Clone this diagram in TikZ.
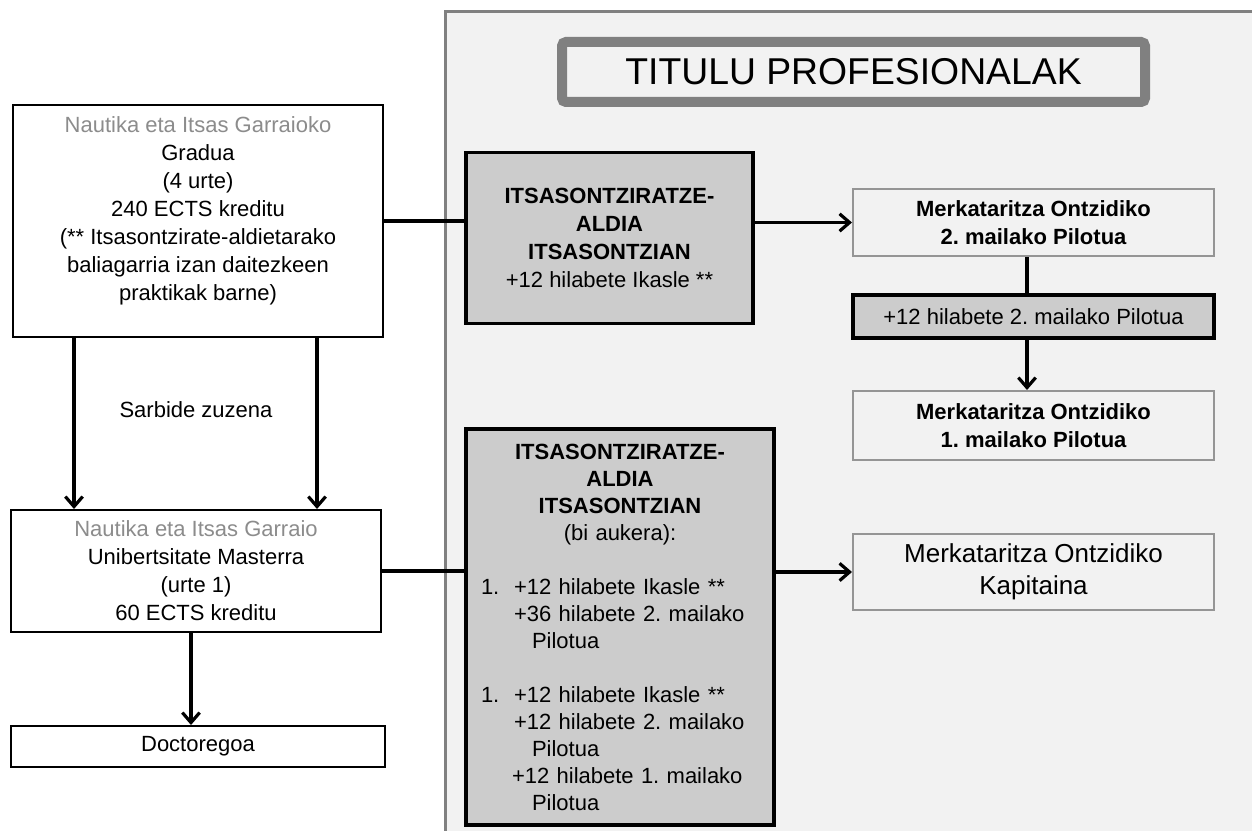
\documentclass[tikz,border=0pt]{standalone}
\usepackage{fontspec}
\setmainfont{Liberation Sans}
\usetikzlibrary{arrows.meta}
\frenchspacing

\definecolor{panelgray}{HTML}{F2F2F2}
\definecolor{paneledge}{HTML}{808080}
\definecolor{boxgray}{HTML}{CCCCCC}
\definecolor{rankedge}{HTML}{959595}
\definecolor{textgray}{HTML}{8C8C8C}

\tikzset{every picture/.style={line width=0.75pt}}

\begin{document}
\begin{tikzpicture}[x=0.75pt,y=0.75pt,yscale=-1,xscale=1,
	every node/.style={font=\fontsize{16.5}{21}\selectfont, align=center},
	studybox/.style={draw=black, line width=1.5pt, fill=white, minimum width=277.5pt},
	shipbox/.style={draw=black, line width=2.6pt, fill=boxgray},
	rankbox/.style={draw=rankedge, line width=1.5pt, fill=panelgray, minimum width=270.75pt},
	rankbold/.style={rankbox, font=\fontsize{16.5}{21}\selectfont\bfseries},
	titlebox/.style={draw=paneledge, line width=7.5pt, fill=panelgray, rounded corners=3pt,
		minimum width=437.25pt, minimum height=45pt, font=\fontsize{28}{34}\selectfont},
	conn/.style={line width=2.4pt},
	arr/.style={conn, -{Straight Barb[length=7.5pt,width=13pt]}}
]
	\useasboundingbox (0,0) rectangle (1252,831);

	%Shape: Rectangle [id:panel]
	\draw [draw=paneledge, line width=2.25pt, fill=panelgray] (445,12) rectangle (1275,855);

	% Text Node
	\node [titlebox] (titulu) at (853.5,72) {TITULU PROFESIONALAK};

	% Text Node
	\node [studybox, minimum height=174pt] (grad) at (198,221) {\textcolor{textgray}{Nautika eta Itsas Garraioko}\\Gradua\\(4 urte)\\240 ECTS kreditu\\(** Itsasontzirate-aldietarako\\baliagarria izan daitezkeen\\praktikak barne)\\[-9pt]\strut};
	% Text Node
	\node [studybox, minimum height=91.5pt] (master) at (196,571) {\textcolor{textgray}{Nautika eta Itsas Garraio}\\Unibertsitate Masterra\\(urte 1)\\60 ECTS kreditu};
	% Text Node
	\node [studybox, minimum width=280.5pt, minimum height=30.75pt] (doct) at (198,746.5) {Doctoregoa};
	% Text Node
	\node (sarbide) at (196,410) {Sarbide zuzena};

	% Text Node
	\node [shipbox, minimum width=215.25pt, minimum height=128.25pt] (itsa1) at (609.5,238) {\textbf{ITSASONTZIRATZE-}\\\textbf{ALDIA}\\\textbf{ITSASONTZIAN}\\+12 hilabete Ikasle **};
	% Text Node
	\node [shipbox, minimum width=231pt, minimum height=297pt, inner xsep=11.25pt, text width=208.5pt,
		font=\fontsize{16.5}{20.25}\selectfont] (itsa2) at (620,627) {\textbf{ITSASONTZIRATZE-}\\\textbf{ALDIA}\\\textbf{ITSASONTZIAN}\\(bi aukera):\par
		\raggedright\vspace{20.25pt}%
		\makebox[24.75pt][l]{1.}+12 hilabete Ikasle **\\
		\hspace*{24.75pt}+36 hilabete 2. mailako\\
		\hspace*{38.25pt}Pilotua\\[20.25pt]
		\makebox[24.75pt][l]{1.}+12 hilabete Ikasle **\\
		\hspace*{24.75pt}+12 hilabete 2. mailako\\
		\hspace*{38.25pt}Pilotua\\
		\hspace*{23.25pt}+12 hilabete 1. mailako\\
		\hspace*{38.25pt}Pilotua\par};

	% Text Node
	\node [rankbold, minimum height=50.25pt] (merk2) at (1033.5,222.5) {Merkataritza Ontzidiko\\2. mailako Pilotua};
	% Text Node
	\node [shipbox, minimum width=270.75pt, minimum height=32.25pt] (hil) at (1033.5,316.5) {+12 hilabete 2. mailako Pilotua};
	% Text Node
	\node [rankbold, minimum height=51.75pt] (merk1) at (1033.5,425.5) {Merkataritza Ontzidiko\\1. mailako Pilotua};
	% Text Node
	\node [rankbox, minimum height=57pt, font=\fontsize{19.5}{24}\selectfont] (kap) at (1033.5,572) {Merkataritza Ontzidiko\\Kapitaina};

	% Connectors
	\coordinate (lft) at ([xshift=46.5pt]grad.south west);
	\coordinate (rgt) at ([xshift=228.75pt]grad.south west);
	\coordinate (mdown) at ([xshift=-3.75pt]master.south);
	\coordinate (mid2) at ([xshift=-4.875pt]merk2.south);

	\draw [conn] (grad.east) -- (grad.east -| itsa1.west);
	\draw [arr] (merk2.west -| itsa1.east) -- (merk2.west);
	\draw [conn] (mid2) -- (mid2 |- hil.north);
	\draw [arr] (mid2 |- hil.south) -- (mid2 |- merk1.north);
	\draw [arr] (lft) -- (lft |- master.north);
	\draw [arr] (rgt) -- (rgt |- master.north);
	\draw [arr] (mdown) -- (mdown |- doct.north);
	\draw [conn] (master.east) -- (master.east -| itsa2.west);
	\draw [arr] (kap.west -| itsa2.east) -- (kap.west);

\end{tikzpicture}
\end{document}
